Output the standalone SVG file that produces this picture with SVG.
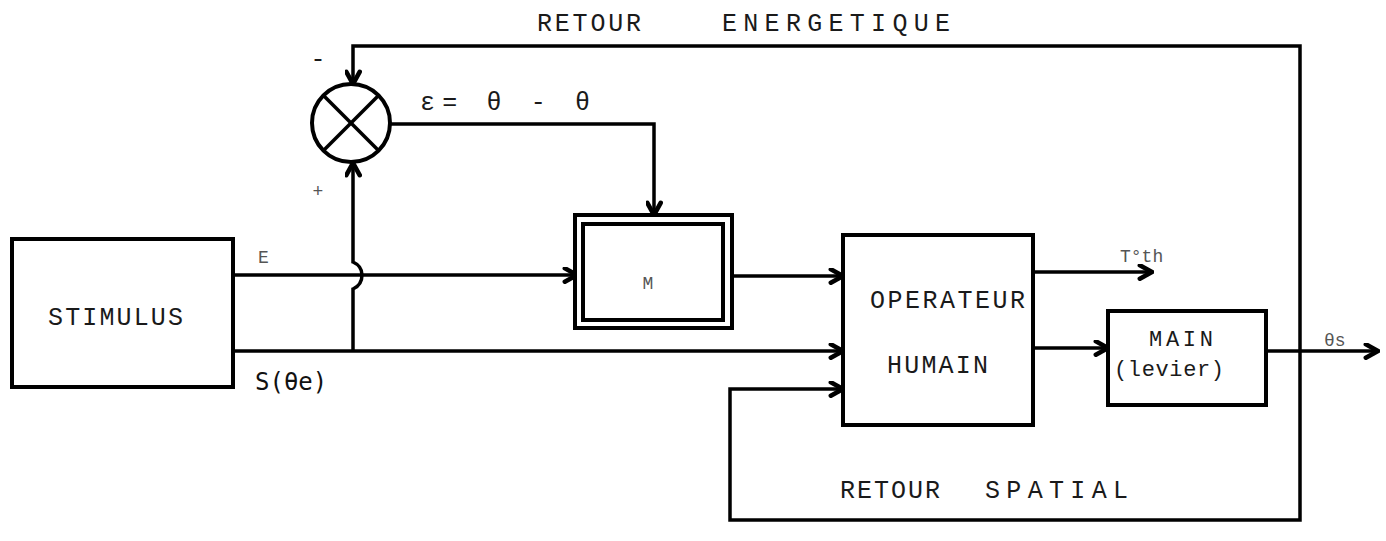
<svg xmlns="http://www.w3.org/2000/svg" width="1386" height="541" viewBox="0 0 1386 541">
<style>
.box{fill:#fff;stroke:#000;stroke-width:4}
.ln{fill:none;stroke:#000;stroke-width:3.5;stroke-linejoin:miter}
.tw{font-family:"Liberation Mono",monospace;font-size:25px;fill:#1a1a1a}
.tm{font-family:"Liberation Mono",monospace;font-size:22px;fill:#1a1a1a}
.sm{font-family:"Liberation Mono",monospace;font-size:18px;fill:#555}
.sg{font-family:"DejaVu Sans Mono",monospace;font-size:24px;fill:#111}
</style>
<defs>
<marker id="arr" viewBox="0 0 14 14" refX="12" refY="7" markerWidth="17" markerHeight="17" markerUnits="userSpaceOnUse" orient="auto">
<path d="M2,1.5 L12,7 L2,12.5" fill="none" stroke="#000" stroke-width="3.8" stroke-linecap="round" stroke-linejoin="miter"/>
</marker>
</defs>
<rect width="1386" height="541" fill="#fff"/>

<g id="connectors">
<path class="ln" d="M233,275 H577" marker-end="url(#arr)"/>
<path class="ln" d="M233,351 H843" marker-end="url(#arr)"/>
<path class="ln" d="M353,351 V289 Q362,285 362,275 Q362,266 353,262 V163" marker-end="url(#arr)"/>
<path class="ln" d="M1300,351 V46 H353 V84" marker-end="url(#arr)"/>
<path class="ln" d="M1300,351 V520 H730 V389 H843" marker-end="url(#arr)"/>
<path class="ln" d="M391,124 H654 V215" marker-end="url(#arr)"/>
<path class="ln" d="M732,276 H843" marker-end="url(#arr)"/>
<path class="ln" d="M1033,272 H1152" marker-end="url(#arr)"/>
<path class="ln" d="M1033,348 H1108" marker-end="url(#arr)"/>
<path class="ln" d="M1266,351 H1378" marker-end="url(#arr)"/>
</g>

<g id="comparator">
<circle cx="351" cy="123" r="39" fill="#fff" stroke="#000" stroke-width="4"/>
<line x1="323" y1="95" x2="379" y2="151" stroke="#000" stroke-width="3.5"/>
<line x1="379" y1="95" x2="323" y2="151" stroke="#000" stroke-width="3.5"/>
<text class="tw" x="318" y="67" text-anchor="middle">-</text>
<text class="sm" x="318" y="197" text-anchor="middle">+</text>
</g>

<g id="stimulus">
<rect class="box" x="12" y="239" width="221" height="148"/>
<text class="tw" x="48" y="325" textLength="135" lengthAdjust="spacing">STIMULUS</text>
</g>

<g id="m-block">
<rect class="box" x="575" y="215" width="157" height="113"/>
<rect class="box" x="583" y="224" width="140" height="96" stroke-width="3"/>
<text class="sm" x="648" y="289" text-anchor="middle">M</text>
</g>

<g id="operateur">
<rect class="box" x="843" y="235" width="190" height="190"/>
<text class="tw" x="870" y="308" textLength="155" lengthAdjust="spacing">OPERATEUR</text>
<text class="tw" x="887" y="373" textLength="101" lengthAdjust="spacing">HUMAIN</text>
</g>

<g id="main">
<rect class="box" x="1108" y="311" width="158" height="94"/>
<text class="tm" x="1149" y="346" textLength="64" lengthAdjust="spacing">MAIN</text>
<text class="tm" x="1114" y="376" textLength="110" lengthAdjust="spacing">(levier)</text>
</g>

<g id="labels">
<text class="tw" x="537" y="31" textLength="104" lengthAdjust="spacing">RETOUR</text>
<text class="tw" x="722" y="31" textLength="228" lengthAdjust="spacing">ENERGETIQUE</text>
<text class="tw" x="840" y="498" textLength="100" lengthAdjust="spacing">RETOUR</text>
<text class="tw" x="985" y="498" textLength="143" lengthAdjust="spacing">SPATIAL</text>
<text class="sm" x="258" y="263">E</text>
<text class="sg" x="255" y="390">S(θe)</text>
<text class="tw" x="420" y="110" textLength="170" lengthAdjust="spacing">ε= θ  - θ</text>
<text class="sm" x="1120" y="262">T°th</text>
<text class="sm" x="1324" y="346">θs</text>
</g>
</svg>
